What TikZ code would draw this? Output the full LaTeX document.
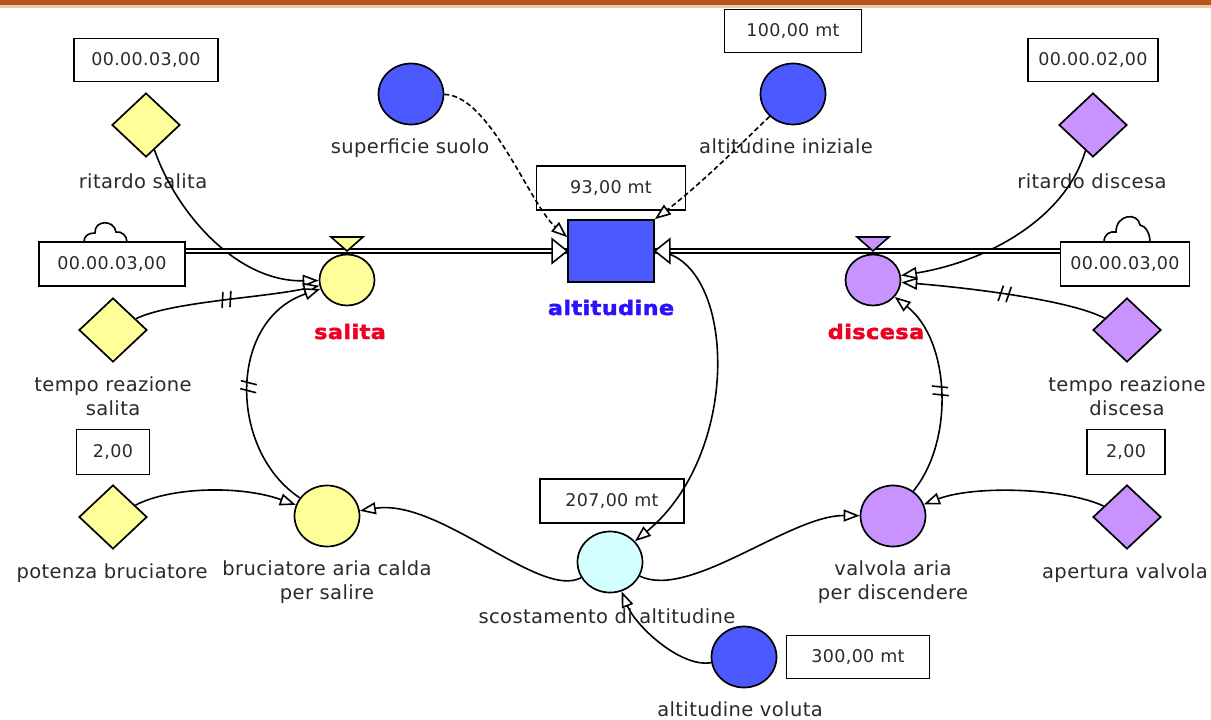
\documentclass[tikz,border=0pt]{standalone}
\usepackage{fontspec}
\usetikzlibrary{shapes.geometric,arrows.meta,decorations.markings}
\newfontfamily\lblfont[LetterSpace=2]{DejaVu Sans}
\newfontfamily\numfont[LetterSpace=2]{DejaVu Sans}
\newfontfamily\boldfont[FakeStretch=1.12,LetterSpace=2,FakeBold=2.2]{DejaVu Sans}

\definecolor{yel}{HTML}{FFFF99}
\definecolor{pur}{HTML}{C993FF}
\definecolor{blu}{HTML}{4B59FF}
\definecolor{cya}{HTML}{D4FFFF}
\definecolor{redlbl}{HTML}{EE0022}
\definecolor{blulbl}{HTML}{2B12FF}
\definecolor{txt}{HTML}{2A2A2A}
\definecolor{barbrown}{HTML}{B5561A}
\definecolor{barlight}{HTML}{EEC7AC}

\tikzset{
  auxc/.style={ellipse, draw, line width=1.7pt, minimum width=65pt, minimum height=61pt, inner sep=0pt},
  flowc/.style={ellipse, draw, line width=1.7pt, minimum width=55pt, minimum height=51pt, inner sep=0pt},
  cnst/.style={diamond, draw, line width=1.7pt, minimum width=68pt, minimum height=64pt, inner sep=0pt},
  valbox/.style={draw, line width=1.7pt, fill=white, inner sep=0pt, text=txt,
    font=\numfont\fontsize{17.5}{20}\selectfont},
  lbl/.style={anchor=base, align=center, text=txt,
    font=\lblfont\fontsize{19.5}{23.5}\selectfont},
  blbl/.style={anchor=base, font=\boldfont\bfseries\fontsize{20}{24}\selectfont},
  link/.style={line width=1.6pt, -{Triangle[length=16pt,width=12pt,fill=white]}},
  dlink/.style={link, dash pattern=on 5pt off 3pt},
  delay/.style={postaction={decorate, decoration={markings,
    mark=at position #1 with {\draw[line width=1.6pt,solid,arrows=-] (-6pt,-8pt) -- (-3pt,8pt) (2pt,-8pt) -- (5pt,8pt);}}}},
  pipe/.style={double=white, double distance=2.4pt, line width=1.6pt},
  tip/.style={line width=1.6pt, fill=white, line join=miter},
  cloud/.style={line width=1.6pt, fill=white}
}

\begin{document}
\begin{tikzpicture}[x=1pt,y=-1pt]
\useasboundingbox (0,0) rectangle (1211,720);
\fill[white] (0,0) rectangle (1211,720);
% header stripe
\fill[barbrown] (0,0) rectangle (1211,5);
\fill[barlight] (0,5) rectangle (1211,8);

% clouds (sources / sinks)
\draw[cloud] (84,242) .. controls (84,236) and (88,233) .. (95,233)
  .. controls (94,220) and (114,219) .. (116,232)
  .. controls (122,231) and (127,236) .. (127,242);
\draw[cloud] (1104,242) .. controls (1104,234) and (1110,231) .. (1116,232)
  .. controls (1116,214) and (1138,212) .. (1140,225)
  .. controls (1146,226) and (1150,234) .. (1150,242);

% stock
\node[draw, fill=blu, line width=1.7pt, minimum width=86pt, minimum height=62pt, inner sep=0pt] (alt) at (611,251) {};
\node[blbl, text=blulbl] (altl) at (611,315) {altitudine};
\node[valbox, minimum width=149pt, minimum height=44pt] (altv) at (611,188) {93,00 mt};

% flows
\node[flowc, fill=yel] (fs) at (347,280) {};
\node[blbl, text=redlbl] (fsl) at (350,339) {salita};
\node[flowc, fill=pur] (fd) at (873,280) {};
\node[blbl, text=redlbl] (fdl) at (876,339) {discesa};

\node[valbox, minimum width=146pt, minimum height=44pt] (src) at (112,264) {00.00.03,00};
\node[valbox, minimum width=129pt, minimum height=44pt] (snk) at (1125,264) {00.00.03,00};

% left column
\node[cnst, fill=yel] (rs) at (146,125) {};
\node[valbox, minimum width=144pt, minimum height=43pt] (rsv) at (146,60) {00.00.03,00};
\node[lbl] (rsl) at (143,188) {ritardo salita};

\node[cnst, fill=yel] (trs) at (113,330) {};
\node[lbl] (trsl) at (113,415) {tempo reazione\\salita};
\node[valbox, minimum width=73pt, minimum height=45pt] (trsv) at (113,452) {2,00};

\node[cnst, fill=yel] (pb) at (113,517) {};
\node[lbl] (pbl) at (112,578) {potenza bruciatore};

\node[auxc, fill=yel] (br) at (327,516) {};
\node[lbl] (brl) at (327,599) {bruciatore aria calda\\per salire};

% centre
\node[auxc, fill=blu] (ss) at (411,94) {};
\node[lbl] (ssl) at (410,153) {superficie suolo};

\node[auxc, fill=blu] (ai) at (793,94) {};
\node[valbox, minimum width=137pt, minimum height=43pt] (aiv) at (793,31) {100,00 mt};
\node[lbl] (ail) at (786,153) {altitudine iniziale};

\node[auxc, fill=cya] (sc) at (610,562) {};
\node[valbox, minimum width=144pt, minimum height=44pt] (scv) at (612,501) {207,00 mt};
\node[lbl] (scl) at (607,623) {scostamento di altitudine};

\node[auxc, fill=blu] (alv) at (744,657) {};
\node[valbox, minimum width=143pt, minimum height=43pt] (alvv) at (858,657) {300,00 mt};
\node[lbl] (alvl) at (740,716) {altitudine voluta};

% right column
\node[cnst, fill=pur] (rd) at (1093,125) {};
\node[valbox, minimum width=130pt, minimum height=43pt] (rdv) at (1093,60) {00.00.02,00};
\node[lbl] (rdl) at (1092,188) {ritardo discesa};

\node[cnst, fill=pur] (trd) at (1127,330) {};
\node[lbl] (trdl) at (1127,415) {tempo reazione\\discesa};
\node[valbox, minimum width=78pt, minimum height=45pt] (trdv) at (1126,452) {2,00};

\node[cnst, fill=pur] (av) at (1127,517) {};
\node[lbl] (avl) at (1125,578) {apertura valvola};

\node[auxc, fill=pur] (va) at (893,516) {};
\node[lbl] (val) at (893,599) {valvola aria\\per discendere};

% information links
\draw[link] (rs) .. controls (175,210) and (235,282) .. (fs);
\draw[link, delay=0.5] (trs) .. controls (170,302) and (260,298) .. (fs);
\draw[link, delay=0.5] (br) .. controls (228,450) and (228,320) .. (fs);
\draw[link] (pb) .. controls (170,487) and (240,485) .. (br);
\draw[link] (sc) .. controls (540,600) and (440,498) .. (br);
\draw[link] (sc) .. controls (690,600) and (790,515) .. (va);
\draw[link] (alt.east) .. controls (735,255) and (745,450) .. (sc);
\draw[link] (alv) .. controls (680,668) and (635,625) .. (sc);
\draw[dlink] (ss) .. controls (490,95) and (530,205) .. ([yshift=-18pt]alt.north west);
\draw[dlink] (ai) .. controls (745,140) and (700,185) .. (alt.north east);
\draw[link] (rd) .. controls (1065,220) and (985,262) .. (fd);
\draw[link, delay=0.5] (trd) .. controls (1070,300) and (970,288) .. (fd);
\draw[link, delay=0.5] (va) .. controls (955,440) and (950,340) .. (fd);
\draw[link] (av) .. controls (1065,488) and (975,485) .. (va);

% flow pipes
\draw[pipe] (src.east |- alt.west) -- (alt.west);
\draw[pipe] (snk.west |- alt.east) -- (alt.east);
\draw[tip] (alt.west) -- ++(-15,-12) -- ++(0,24) -- cycle;
\draw[tip] (alt.east) -- ++(15,-12) -- ++(0,24) -- cycle;
% valves
\draw[tip, fill=yel] (fs.north |- alt.west) -- ++(-16,-14) -- ++(32,0) -- cycle;
\draw[tip, fill=pur] (fd.north |- alt.west) -- ++(-16,-14) -- ++(32,0) -- cycle;
\end{tikzpicture}
\end{document}
